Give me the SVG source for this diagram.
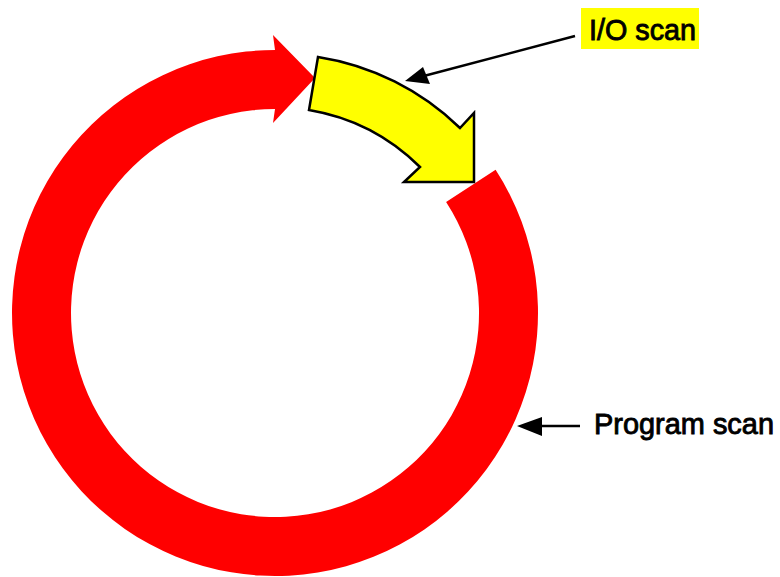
<svg xmlns="http://www.w3.org/2000/svg" width="780" height="577" viewBox="0 0 780 577">
  <defs>
    <style>
      .lbl { font-family: "Liberation Sans", Arial, sans-serif; font-size: 30px; fill: #000; stroke: #000; stroke-width: 0.9; }
      .lead { stroke: #000; stroke-width: 2.5; fill: none; }
      .head { fill: #000; }
    </style>
  </defs>
  <rect width="780" height="577" fill="#ffffff"/>
  <g id="program-scan-ring">
    <path fill="#ff0000" d="M 495.6 169.8 A 263 263 0 1 1 275 50 L 273 35 L 315 78 L 273 123 L 275 109 A 204 204 0 1 0 446.1 201.9 Z"/>
  </g>
  <g id="io-scan-arrow">
    <path fill="#ffff00" stroke="#000" stroke-width="2.5" stroke-linejoin="miter" d="M 318 57 A 261 261 0 0 1 460 128 L 474 113 L 474 182 L 404 182 L 420 167 A 206 206 0 0 0 309 110 Z"/>
  </g>
  <g id="io-scan-label">
    <rect x="581" y="8" width="118" height="41" fill="#ffff00"/>
    <text class="lbl" x="589" y="40" textLength="107" lengthAdjust="spacingAndGlyphs">I/O scan</text>
  </g>
  <g id="program-scan-label">
    <text class="lbl" x="594" y="434" font-size="29" textLength="180" lengthAdjust="spacingAndGlyphs">Program scan</text>
  </g>
  <g id="connectors">
    <line class="lead" x1="575" y1="36" x2="420" y2="77"/>
    <polygon class="head" points="405,81 423,67 430,84"/>
    <line class="lead" x1="580" y1="426" x2="535" y2="426"/>
    <polygon class="head" points="517,426 542,417 542,436"/>
  </g>
</svg>
